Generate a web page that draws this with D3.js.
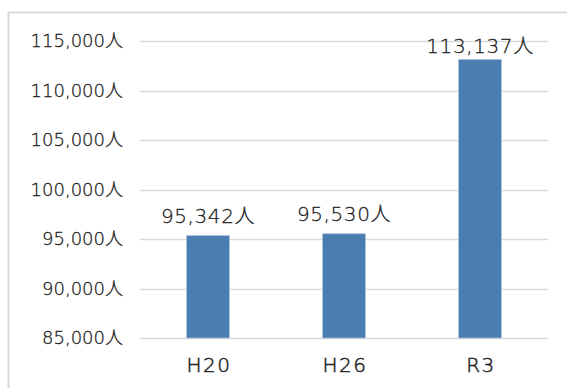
<!DOCTYPE html>
<html>
<head>
<meta charset="utf-8">
<script src="https://cdn.jsdelivr.net/npm/d3@7"></script>
<style>
  html, body { margin: 0; padding: 0; background: #fff; }
  svg { display: block; }
  text { font-family: "DejaVu Sans", "Noto Sans CJK JP", sans-serif; fill: #222; }
</style>
</head>
<body>
<svg id="chart" width="567" height="388"></svg>
<script>
const categories = ["H20", "H26", "R3"];
const values = [95342, 95530, 113137];
const tickValues = [85000, 90000, 95000, 100000, 105000, 110000, 115000];

const svg = d3.select("#chart");
const W = 567, H = 388;
const fmt = d3.format(",");
const FONT = "'DejaVu Sans', 'Noto Sans CJK JP', sans-serif";

// outer frame
svg.append("rect")
  .attr("x", 8.5).attr("y", 12.5)
  .attr("width", W).attr("height", H)
  .attr("fill", "none").attr("stroke", "#d9d9d9").attr("stroke-width", 2);

const plot = { left: 140, right: 548, top: 41, bottom: 338 };

const x = d3.scaleBand().domain(categories)
  .range([plot.left, plot.right]).paddingInner(0.685).paddingOuter(0.3425);
const y = d3.scaleLinear().domain([85000, 115000]).range([plot.bottom, plot.top]);

// gridlines
svg.append("g").selectAll("line").data(tickValues).join("line")
  .attr("x1", plot.left).attr("x2", plot.right)
  .attr("y1", d => Math.round(y(d)) + 0.5).attr("y2", d => Math.round(y(d)) + 0.5)
  .attr("stroke", "#d9d9d9").attr("stroke-width", 1.5);

// y tick labels
const yAxis = d3.axisLeft(y).tickValues(tickValues).tickSize(0).tickPadding(0)
  .tickFormat(d => fmt(d) + "人");
const gy = svg.append("g").attr("transform", "translate(123,0)").call(yAxis);
gy.select(".domain").remove();
gy.selectAll("text").attr("font-size", 18).attr("fill", "#222")
  .attr("stroke", "#222").attr("stroke-width", 0.3)
  .style("font-family", FONT).style("font-weight", 300);

// bars
svg.append("g").selectAll("rect").data(values).join("rect")
  .attr("x", (d, i) => x(categories[i]))
  .attr("width", x.bandwidth())
  .attr("y", d => y(d))
  .attr("height", d => y(85000) - y(d))
  .attr("fill", "#4a7eb0")
  .attr("stroke", "#a9c4de").attr("stroke-width", 0.8);

// value labels (kept inside the plot area at the top)
svg.append("g").selectAll("text").data(values).join("text")
  .attr("x", (d, i) => x(categories[i]) + x.bandwidth() / 2)
  .attr("y", d => Math.max(y(d) - 13, 53))
  .attr("text-anchor", "middle")
  .attr("font-size", 20)
  .attr("stroke", "#222").attr("stroke-width", 0.3)
  .style("letter-spacing", "0.6px")
  .style("font-weight", 300)
  .text(d => fmt(d) + "人");

// category labels
const xAxis = d3.axisBottom(x).tickSize(0).tickPadding(0);
const gx = svg.append("g").attr("transform", `translate(1,${plot.bottom + 20})`).call(xAxis);
gx.select(".domain").remove();
gx.selectAll("text").attr("font-size", 20).attr("fill", "#222")
  .attr("stroke", "#222").attr("stroke-width", 0.5)
  .style("font-family", FONT).style("font-weight", 300)
  .style("letter-spacing", "1.5px");
</script>
</body>
</html>
